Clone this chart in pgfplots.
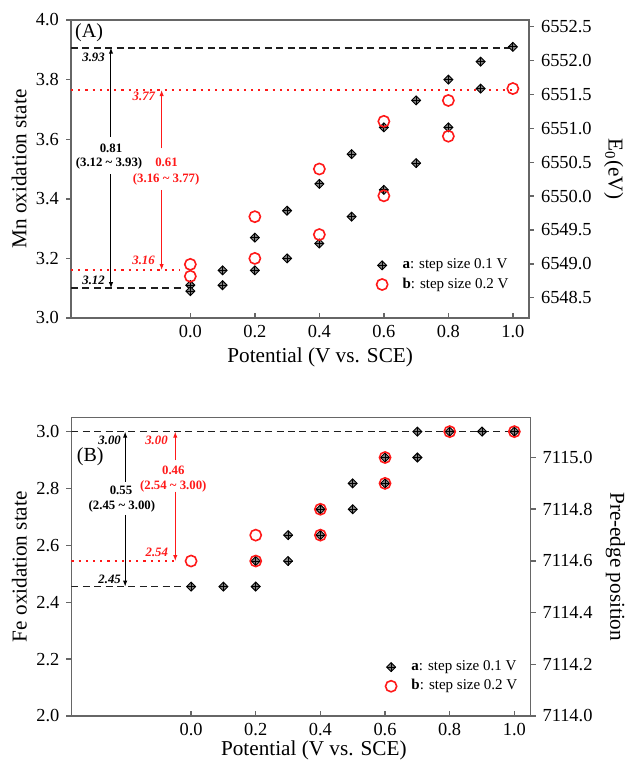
\documentclass[border=0pt]{standalone}
\usepackage{fontspec}
\setmainfont{Liberation Serif}
\usepackage{pgfplots}
\pgfplotsset{compat=1.18}
\usetikzlibrary{arrows.meta}

\definecolor{framegray}{gray}{0.4}
\definecolor{ptfill}{gray}{0.5}
\definecolor{mred}{RGB}{255,25,25}
\definecolor{dashgray}{gray}{0.12}

% diamond with a cross inside
\pgfdeclareplotmark{dplus}{%
  \pgfpathmoveto{\pgfqpoint{0pt}{\pgfplotmarksize}}%
  \pgfpathlineto{\pgfqpoint{\pgfplotmarksize}{0pt}}%
  \pgfpathlineto{\pgfqpoint{0pt}{-\pgfplotmarksize}}%
  \pgfpathlineto{\pgfqpoint{-\pgfplotmarksize}{0pt}}%
  \pgfpathclose
  \pgfusepathqfillstroke
  \pgfpathmoveto{\pgfqpoint{0pt}{\pgfplotmarksize}}%
  \pgfpathlineto{\pgfqpoint{0pt}{-\pgfplotmarksize}}%
  \pgfpathmoveto{\pgfqpoint{\pgfplotmarksize}{0pt}}%
  \pgfpathlineto{\pgfqpoint{-\pgfplotmarksize}{0pt}}%
  \pgfusepathqstroke
}

\tikzset{
  annf/.style={font=\fontsize{6.4}{7.5}\selectfont\bfseries},
  annfi/.style={font=\fontsize{6.4}{7.5}\selectfont\bfseries\itshape},
  barrow/.style={black, line width=0.5pt, -{Latex[length=3pt,width=2.2pt]}},
  rarrow/.style={mred, line width=0.5pt, -{Latex[length=3pt,width=2.2pt]}},
}

\pgfplotsset{
  base/.style={
    scale only axis,
    xmin=-0.37, xmax=1.05,
    axis line style={framegray, line width=0.9pt},
    tick style={framegray, line width=0.7pt},
    major tick length=2.5pt,
    ticklabel style={font=\fontsize{9.2}{11}\selectfont},
    /pgf/number format/assume math mode=true,
    /pgf/number format/fixed,
    /pgf/number format/fixed zerofill,
    /pgf/number format/precision=1,
    /pgf/number format/1000 sep={},
    label style={font=\fontsize{10.6}{12}\selectfont},
  },
  mainax/.style={
    base,
    tick align=inside,
    xtick pos=left, ytick pos=left,
    y tick style={xshift=-2.5pt},
    yticklabel style={xshift=-2.5pt},
    xtick={0,0.2,0.4,0.6,0.8,1.0},
    xlabel={Potential (V vs. SCE)},
    ylabel style={at={(axis description cs:-0.1135,0.5)}, anchor=center},
    legend image code/.code={\draw[##1] plot coordinates {(0pt,0pt)};
      \path[draw=none, fill=none] (-4pt,-3pt) rectangle (9pt,3pt);},
    legend style={draw=none, fill=none, inner sep=0pt, row sep=0.6pt,
      font=\fontsize{7.5}{8.5}\selectfont, cells={anchor=west},
      nodes={inner sep=1.2pt}},
  },
  rightax/.style={
    base,
    axis x line=none, axis y line*=right,
    tick align=outside,
    ylabel style={rotate=180, at={(axis description cs:1.185,0.5)}, anchor=center},
  },
  sera/.style={only marks, mark=dplus, mark size=2.25pt,
    mark options={draw=black, fill=ptfill, line width=0.45pt}},
  serb/.style={only marks, mark=o, mark size=2.8pt,
    mark options={draw=mred, line width=0.8pt}},
  blackref/.style={dashgray, line width=0.85pt, dash pattern=on 3.5pt off 2.2pt},
  redref/.style={mred, line width=0.9pt, dash pattern=on 1.1pt off 2.5pt},
}

\begin{document}
\begin{tikzpicture}

% ---------------- (A) Mn ----------------
\begin{axis}[mainax,
  at={(35.5pt,225pt)}, anchor=south west,
  width=229pt, height=149pt,
  ymin=3.0, ymax=4.0, ytick={3.0,3.2,3.4,3.6,3.8,4.0},
  ylabel={Mn oxidation state},
  xlabel style={at={(axis description cs:0.544,-0.131)}, anchor=center},
  legend style={at={(axis description cs:0.661,0.208)}, anchor=north west},
]
\addplot[blackref, forget plot] coordinates {(-0.37,3.907) (1.0,3.907)};
\addplot[blackref, forget plot] coordinates {(-0.37,3.100) (-0.02,3.100)};
\addplot[redref, forget plot] coordinates {(-0.37,3.765) (1.0,3.765)};
\addplot[redref, forget plot] coordinates {(-0.37,3.161) (-0.035,3.161)};

\addplot[sera] coordinates {
  (0.0,3.11) (0.0,3.09) (0.1,3.16) (0.1,3.11) (0.2,3.27) (0.2,3.16)
  (0.3,3.36) (0.3,3.20) (0.4,3.45) (0.4,3.25) (0.5,3.55) (0.5,3.34)
  (0.6,3.64) (0.6,3.43) (0.7,3.73) (0.7,3.52) (0.8,3.80) (0.8,3.64)
  (0.9,3.86) (0.9,3.77) (1.0,3.91)};
\addlegendentry{\textbf{a}: step size 0.1 V}
\addplot[serb] coordinates {
  (0.0,3.18) (0.0,3.14) (0.2,3.34) (0.2,3.20) (0.4,3.50) (0.4,3.28)
  (0.6,3.66) (0.6,3.41) (0.8,3.73) (0.8,3.61) (1.0,3.77)};
\addlegendentry{\textbf{b}: step size 0.2 V}

\node[font=\fontsize{10}{12}\selectfont] at (axis cs:-0.314,3.956) {(A)};

\draw[barrow] (axis cs:-0.246,3.608) -- (axis cs:-0.246,3.907);
\draw[barrow] (axis cs:-0.246,3.483) -- (axis cs:-0.246,3.100);
\node[annf] at (axis cs:-0.246,3.569) {0.81};
\node[annf] at (axis cs:-0.252,3.519) {(3.12 \textasciitilde\ 3.93)};
\node[annfi] at (axis cs:-0.300,3.876) {3.93};
\node[annfi] at (axis cs:-0.300,3.128) {3.12};

\draw[rarrow] (axis cs:-0.089,3.569) -- (axis cs:-0.089,3.765);
\draw[rarrow] (axis cs:-0.089,3.430) -- (axis cs:-0.089,3.161);
\node[annf, text=mred] at (axis cs:-0.074,3.521) {0.61};
\node[annf, text=mred] at (axis cs:-0.075,3.466) {(3.16 \textasciitilde\ 3.77)};
\node[annfi, text=mred] at (axis cs:-0.144,3.743) {3.77};
\node[annfi, text=mred] at (axis cs:-0.145,3.195) {3.16};
\end{axis}

\begin{axis}[rightax,
  at={(35.5pt,225pt)}, anchor=south west,
  width=229pt, height=149pt,
  ymin=6548.2, ymax=6552.6,
  ytick={6548.5,6549.0,6549.5,6550.0,6550.5,6551.0,6551.5,6552.0,6552.5},
  ylabel={E\textsubscript{0}(eV)},
]
\addplot[draw=none] coordinates {(0,6550)};
\end{axis}

% ---------------- (B) Fe ----------------
\begin{axis}[mainax,
  at={(35.75pt,26pt)}, anchor=south west,
  width=229.5pt, height=149.3pt,
  ymin=2.0, ymax=3.05, ytick={2.0,2.2,2.4,2.6,2.8,3.0},
  ylabel={Fe oxidation state},
  xlabel style={at={(axis description cs:0.528,-0.114)}, anchor=center},
  legend style={at={(axis description cs:0.678,0.195)}, anchor=north west},
]
\addplot[blackref, forget plot] coordinates {(-0.37,3.0) (1.0,3.0)};
\addplot[blackref, forget plot] coordinates {(-0.37,2.455) (-0.03,2.455)};
\addplot[redref, forget plot] coordinates {(-0.37,2.545) (-0.04,2.545)};

\addplot[sera] coordinates {
  (0.0,2.455) (0.1,2.455) (0.2,2.455) (0.2,2.545) (0.3,2.545) (0.3,2.636)
  (0.4,2.636) (0.4,2.727) (0.5,2.727) (0.5,2.818) (0.6,2.818) (0.6,2.909)
  (0.7,2.909) (0.7,3.0) (0.8,3.0) (0.9,3.0) (1.0,3.0)};
\addlegendentry{\textbf{a}: step size 0.1 V}
\addplot[serb] coordinates {
  (0.0,2.545) (0.2,2.636) (0.2,2.545) (0.4,2.727) (0.4,2.636)
  (0.6,2.909) (0.6,2.818) (0.8,3.0) (1.0,3.0)};
\addlegendentry{\textbf{b}: step size 0.2 V}

\node[font=\fontsize{10}{12}\selectfont] at (axis cs:-0.312,2.912) {(B)};

\draw[barrow] (axis cs:-0.204,2.824) -- (axis cs:-0.204,3.0);
\draw[barrow] (axis cs:-0.204,2.707) -- (axis cs:-0.204,2.455);
\node[annf] at (axis cs:-0.217,2.792) {0.55};
\node[annf] at (axis cs:-0.214,2.736) {(2.45 \textasciitilde\ 3.00)};
\node[annfi] at (axis cs:-0.252,2.969) {3.00};
\node[annfi] at (axis cs:-0.252,2.482) {2.45};

\draw[rarrow] (axis cs:-0.049,2.900) -- (axis cs:-0.049,3.0);
\draw[rarrow] (axis cs:-0.049,2.789) -- (axis cs:-0.049,2.545);
\node[annf, text=mred] at (axis cs:-0.055,2.863) {0.46};
\node[annf, text=mred] at (axis cs:-0.055,2.807) {(2.54 \textasciitilde\ 3.00)};
\node[annfi, text=mred] at (axis cs:-0.107,2.969) {3.00};
\node[annfi, text=mred] at (axis cs:-0.106,2.576) {2.54};
\end{axis}

\begin{axis}[rightax,
  at={(35.75pt,26pt)}, anchor=south west,
  width=229.5pt, height=149.3pt,
  ymin=7114.0, ymax=7115.155,
  ytick={7114.0,7114.2,7114.4,7114.6,7114.8,7115.0},
  ylabel={Pre-edge position},
]
\addplot[draw=none] coordinates {(0,7114.5)};
\end{axis}

\path[use as bounding box] (0pt,0pt) rectangle (312pt,384pt);
\end{tikzpicture}
\end{document}
